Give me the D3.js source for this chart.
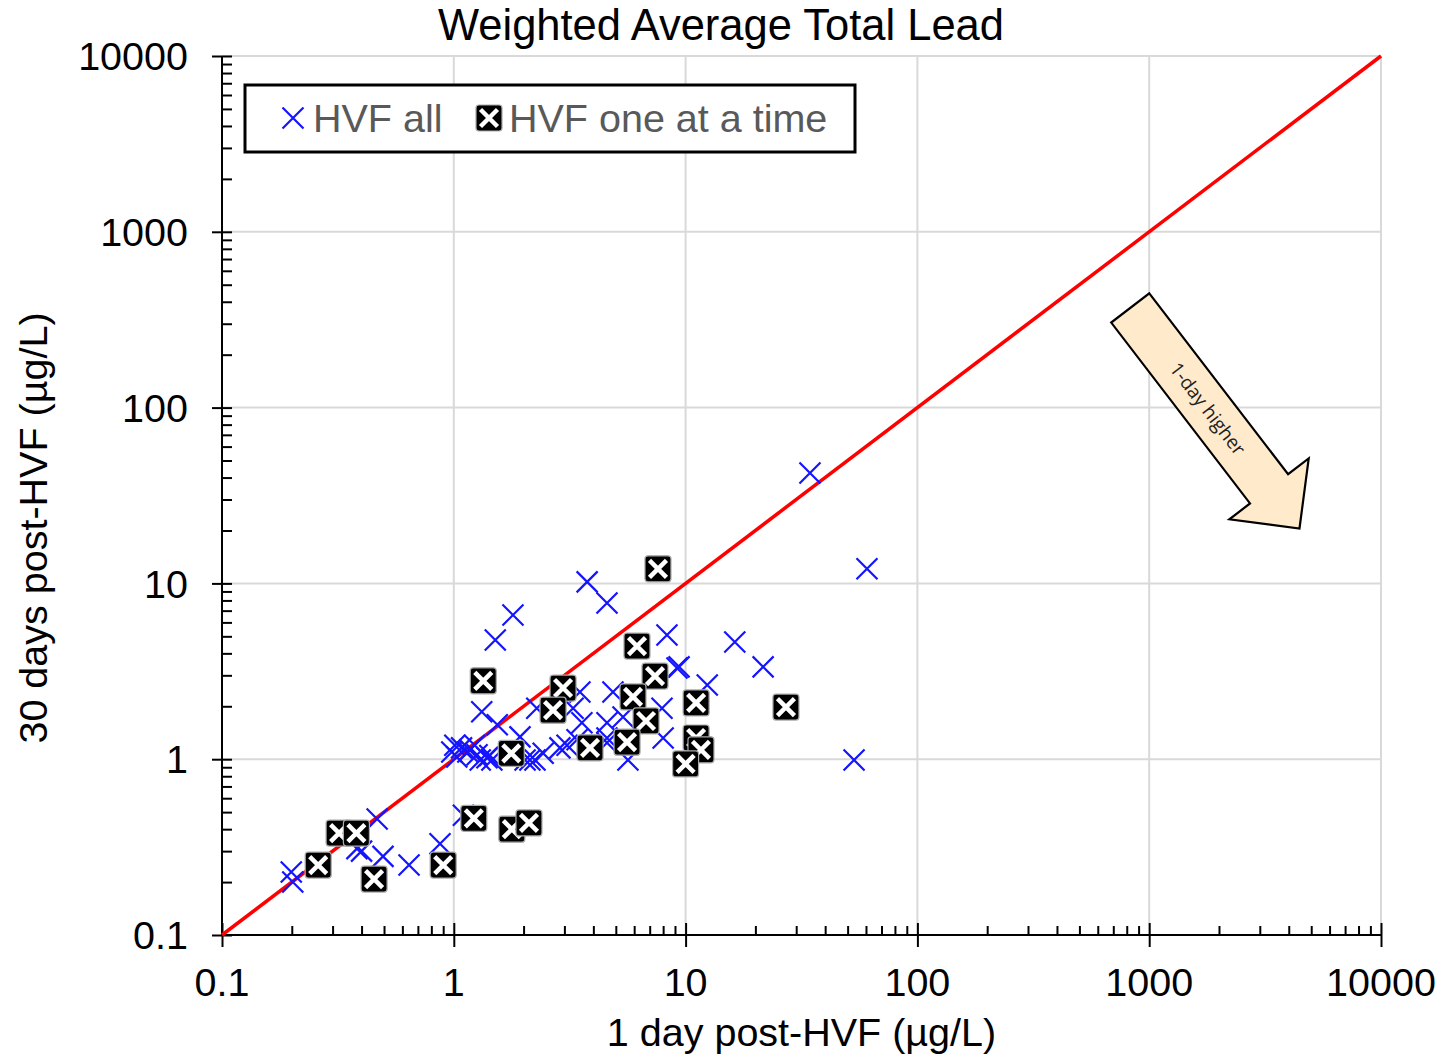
<!DOCTYPE html>
<html>
<head>
<meta charset="utf-8">
<script src="https://cdn.jsdelivr.net/npm/d3@7"></script>
<style>
  body { margin: 0; background: #fff; }
  svg text { font-family: "Liberation Sans", Arial, sans-serif; }
</style>
</head>
<body>
<svg id="chart" width="1445" height="1058"></svg>
<script>
// decades on both axes
var majorTicks = [0.1, 1, 10, 100, 1000, 10000];
var majorLabels = ["0.1", "1", "10", "100", "1000", "10000"];

// HVF all (blue crosses): 1 day post, 30 days post
var allDay1 = [0.199, 0.202, 0.467, 0.382, 0.40, 0.495, 0.641, 0.872, 1.10,
  1.01, 0.98, 1.03, 1.08, 1.15, 1.23, 1.30, 1.39, 1.46, 1.26, 2.03, 2.13, 2.24,
  1.17, 1.43, 1.32, 1.54, 1.93, 2.28, 1.51, 1.80, 3.76, 4.58,
  3.50, 4.86, 3.27, 3.57, 4.58, 5.37, 7.91, 8.0, 3.08, 2.87, 4.58, 5.64, 2.43,
  3.40, 4.58, 8.31, 9.18, 9.37, 12.4, 16.3, 21.6, 34.4, 60.6, 53.3, 11.2];
var allDay30 = [0.228, 0.20, 0.457, 0.31, 0.30, 0.28, 0.25, 0.33, 0.48,
  1.20, 1.10, 1.03, 1.16, 1.10, 1.20, 0.99, 1.02, 0.99, 1.06, 0.99, 0.99, 0.99,
  1.13, 1.05, 1.86, 1.57, 1.34, 1.95, 4.76, 6.61, 10.2, 7.74,
  2.41, 2.41, 1.95, 1.61, 1.61, 1.74, 1.95, 1.32, 1.20, 1.16, 1.24, 0.99, 1.08,
  1.29, 1.32, 5.09, 3.30, 3.35, 2.64, 4.64, 3.35, 42.5, 12.1, 0.99, 1.34];

// HVF one at a time (black squares)
var oneDay1 = [7.6, 6.17, 7.38, 5.93, 6.75, 5.59, 11.1, 11.1, 11.65, 10.0, 27.1,
  2.96, 2.68, 3.87, 1.34, 1.77, 1.22, 1.78, 2.11, 0.90, 0.453, 0.26, 0.32, 0.38];
var oneDay30 = [12.1, 4.4, 2.97, 2.26, 1.65, 1.25, 2.09, 1.32, 1.13, 0.94, 1.98,
  2.54, 1.90, 1.16, 2.79, 1.08, 0.461, 0.40, 0.434, 0.25, 0.208, 0.25, 0.38, 0.38];

var refLine = [0.1, 10000];

var svg = d3.select('#chart');
var plotLeft = 222, plotRight = 1381, plotTop = 56, plotBottom = 935;

var x = d3.scaleLog().domain([0.1, 10000]).range([plotLeft, plotRight]);
var y = d3.scaleLog().domain([0.1, 10000]).range([plotBottom, plotTop]);

var minorTicks = [];
majorTicks.slice(0, -1).forEach(function(d) {
    for (var k = 2; k < 10; k++) minorTicks.push(d * k);
});

// gridlines
svg.append('g').selectAll('line')
    .data(majorTicks.slice(1))
    .enter().append('line')
    .attr('x1', function(d) {return x(d)}).attr('x2', function(d) {return x(d)})
    .attr('y1', plotTop).attr('y2', plotBottom)
    .attr('stroke', '#d9d9d9').attr('stroke-width', 2);
svg.append('g').selectAll('line')
    .data(majorTicks.slice(1))
    .enter().append('line')
    .attr('y1', function(d) {return y(d)}).attr('y2', function(d) {return y(d)})
    .attr('x1', plotLeft).attr('x2', plotRight)
    .attr('stroke', '#d9d9d9').attr('stroke-width', 2);

// axes
function styleAxis(g) {
    g.select('.domain').remove();
    g.selectAll('line').attr('stroke', '#000').attr('stroke-width', 2);
    g.selectAll('text').remove();
}
svg.append('g').attr('transform', 'translate(0,' + plotBottom + ')')
    .call(d3.axisBottom(x).tickValues(minorTicks).tickSize(-9)).call(styleAxis);
svg.append('g').attr('transform', 'translate(0,' + plotBottom + ')')
    .call(d3.axisBottom(x).tickValues(majorTicks).tickSize(-12)).call(styleAxis);
svg.append('g').attr('transform', 'translate(0,' + plotBottom + ')')
    .call(d3.axisBottom(x).tickValues(majorTicks).tickSize(12)).call(styleAxis);
svg.append('g').attr('transform', 'translate(' + plotLeft + ',0)')
    .call(d3.axisLeft(y).tickValues(minorTicks).tickSize(-10)).call(styleAxis);
svg.append('g').attr('transform', 'translate(' + plotLeft + ',0)')
    .call(d3.axisLeft(y).tickValues(majorTicks).tickSize(-10)).call(styleAxis);
svg.append('g').attr('transform', 'translate(' + plotLeft + ',0)')
    .call(d3.axisLeft(y).tickValues(majorTicks).tickSize(10)).call(styleAxis);

svg.append('line').attr('x1', plotLeft).attr('x2', plotRight).attr('y1', plotBottom).attr('y2', plotBottom)
    .attr('stroke', '#000').attr('stroke-width', 2);
svg.append('line').attr('x1', plotLeft).attr('x2', plotLeft).attr('y1', plotTop).attr('y2', plotBottom)
    .attr('stroke', '#000').attr('stroke-width', 2);

// tick labels
svg.append('g').selectAll('text')
    .data(majorTicks)
    .enter().append('text')
    .attr('x', function(d) {return x(d)})
    .attr('y', 996)
    .attr('text-anchor', 'middle')
    .style('font-size', '39.5px')
    .text(function(d, i) {return majorLabels[i]});
svg.append('g').selectAll('text')
    .data(majorTicks)
    .enter().append('text')
    .attr('x', 188)
    .attr('y', function(d) {return y(d)})
    .attr('dy', '0.36em')
    .attr('text-anchor', 'end')
    .style('font-size', '39.5px')
    .text(function(d, i) {return majorLabels[i]});

// titles
svg.append('text').attr('x', 721).attr('y', 40).attr('text-anchor', 'middle')
    .style('font-size', '43.5px').text('Weighted Average Total Lead');
svg.append('text').attr('x', (plotLeft + plotRight) / 2).attr('y', 1046).attr('text-anchor', 'middle')
    .style('font-size', '39.5px').text('1 day post-HVF (µg/L)');
svg.append('text').attr('transform', 'translate(47,528) rotate(-90)').attr('text-anchor', 'middle')
    .style('font-size', '39.5px').text('30 days post-HVF (µg/L)');

// 1:1 line
svg.append('line')
    .attr('x1', x(refLine[0])).attr('y1', y(refLine[0]))
    .attr('x2', x(refLine[1])).attr('y2', y(refLine[1]))
    .attr('stroke', '#ff0000').attr('stroke-width', 3.5);

// markers
var blue = '#1414ff';
function crossPath(s) {
    return 'M' + (-s) + ',' + (-s) + 'L' + s + ',' + s + 'M' + (-s) + ',' + s + 'L' + s + ',' + (-s);
}
function drawCross(g, cx, cy) {
    g.append('path').attr('transform', 'translate(' + cx + ',' + cy + ')')
	.attr('d', crossPath(10.5)).attr('stroke', blue).attr('stroke-width', 2.2).attr('fill', 'none');
}
function drawSquare(g, cx, cy) {
    var m = g.append('g').attr('transform', 'translate(' + cx + ',' + cy + ')');
    m.append('rect').attr('x', -13).attr('y', -13).attr('width', 26).attr('height', 26)
	.attr('rx', 3).attr('fill', '#000').attr('stroke', '#aaa').attr('stroke-width', 1.2);
    m.append('path').attr('d', crossPath(8.5)).attr('stroke', '#fff')
	.attr('stroke-width', 4.5).attr('fill', 'none');
}

var gAll = svg.append('g');
allDay1.forEach(function(d, i) { drawCross(gAll, x(d), y(allDay30[i])); });
var gOne = svg.append('g');
oneDay1.forEach(function(d, i) { drawSquare(gOne, x(d), y(oneDay30[i])); });

// legend
var lg = svg.append('g');
lg.append('rect').attr('x', 245).attr('y', 85).attr('width', 610).attr('height', 67)
    .attr('fill', '#fff').attr('stroke', '#000').attr('stroke-width', 3);
drawCross(lg, 293, 118);
lg.append('text').attr('x', 313).attr('y', 132).style('font-size', '39.5px').attr('fill', '#595959').text('HVF all');
drawSquare(lg, 489, 118);
lg.append('text').attr('x', 509).attr('y', 132).style('font-size', '39.5px').attr('fill', '#595959').text('HVF one at a time');

// annotation arrow
var arrowAt = [1920, 87];
var arrowShape = [[-139, -24], [89, -24], [89, -50], [139, 0], [89, 50], [89, 24], [-139, 24]];
var ag = svg.append('g')
    .attr('transform', 'translate(' + x(arrowAt[0]) + ',' + y(arrowAt[1]) + ') rotate(52.5)');
ag.append('polygon')
    .attr('points', arrowShape.map(function(p) {return p.join(',')}).join(' '))
    .attr('fill', '#ffebcc').attr('stroke', '#000').attr('stroke-width', 2.2).attr('stroke-linejoin', 'miter');
ag.append('text').attr('x', -12).attr('y', 0).attr('dy', '0.35em').attr('text-anchor', 'middle')
    .style('font-family', '"Open Sans", sans-serif').style('font-size', '19px').attr('fill', '#222')
    .text('1-day higher');
</script>
</body>
</html>
